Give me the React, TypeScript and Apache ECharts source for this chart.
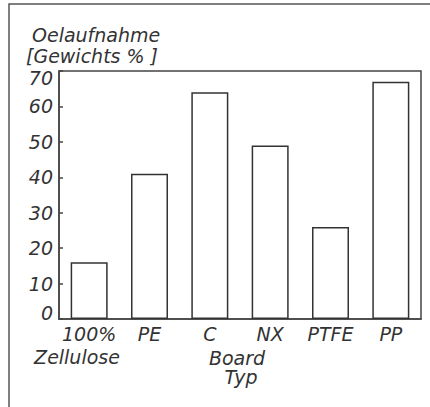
import React, { useEffect, useRef } from "react";
import * as echarts from "echarts";

const categories = ["100%", "PE", "C", "NX", "PTFE", "PP"];
const values = [16, 41, 64, 49, 26, 67];
const yTicks = [0, 10, 20, 30, 40, 50, 60, 70];
const titleLines = ["Oelaufnahme", "[Gewichts % ]"];
const extraLabels = ["Zellulose", "Board", "Typ"];

const FONT = "DejaVu Sans";
const INK = "#333";
const FS = 19;
const LH = 16;

export default function App() {
  const ref = useRef<HTMLDivElement>(null);
  useEffect(() => {
    if (!ref.current) return;
    const chart = echarts.init(ref.current, undefined, { renderer: "svg" });
    const textStyle = {
      fontFamily: FONT,
      fontStyle: "italic",
      fontSize: FS,
      lineHeight: LH,
      fill: INK,
      fontWeight: 300,
    };
    const yMin = yTicks[0];
    const yMax = yTicks[yTicks.length - 1];
    chart.setOption({
      animation: false,
      backgroundColor: "#fff",
      grid: {
        left: 59,
        top: 71,
        right: 9,
        bottom: 88,
        show: true,
        borderColor: "#444",
        borderWidth: 1.5,
      },
      xAxis: {
        type: "category",
        data: categories,
        axisLine: { lineStyle: { color: "#444", width: 1.5 } },
        axisTick: { show: false },
        axisLabel: {
          interval: 0,
          margin: 7,
          fontFamily: FONT,
          fontStyle: "italic",
          fontWeight: 300,
          fontSize: FS,
          lineHeight: LH,
          color: INK,
        },
      },
      yAxis: {
        type: "value",
        min: yMin,
        max: yMax,
        interval: 10,
        splitLine: { show: false },
        axisLine: { show: true, lineStyle: { color: "#444", width: 1.5 } },
        axisTick: { show: true, inside: true, length: 4, lineStyle: { color: "#444", width: 1.5 } },
        axisLabel: {
          margin: 6,
          fontFamily: FONT,
          fontStyle: "italic",
          fontWeight: 300,
          fontSize: FS,
          lineHeight: LH,
          color: INK,
          formatter: (v: number) =>
            v === yMax ? `{mx|${v}}` : v === yMin ? `{mn|${v}}` : `${v}`,
          rich: {
            mx: { padding: [14, 0, 0, 0], fontSize: FS, lineHeight: LH, fontStyle: "italic", fontFamily: FONT, color: INK },
            mn: { padding: [0, 0, 12, 0], fontSize: FS, lineHeight: LH, fontStyle: "italic", fontFamily: FONT, color: INK },
          },
        },
      },
      series: [
        {
          type: "bar",
          data: values,
          barWidth: 37,
          itemStyle: { color: "#fff", borderColor: "#333", borderWidth: 1.5 },
        },
      ],
      graphic: [
        {
          type: "rect",
          shape: { x: 9, y: 4, width: 500, height: 500 },
          style: { fill: "none", stroke: "#555", lineWidth: 1.5 },
          silent: true,
        },
        { type: "text", x: 32, y: 27, style: { ...textStyle, text: titleLines[0] } },
        { type: "text", x: 26, y: 48, style: { ...textStyle, text: titleLines[1] } },
        { type: "text", x: 77, y: 349, style: { ...textStyle, text: extraLabels[0], align: "center" } },
        { type: "text", x: 237, y: 350, style: { ...textStyle, text: extraLabels[1], align: "center" } },
        { type: "text", x: 241, y: 369, style: { ...textStyle, text: extraLabels[2], align: "center" } },
      ],
    });
    return () => chart.dispose();
  }, []);
  return <div ref={ref} style={{ width: 430, height: 407, position: "absolute", left: 0, top: 0 }} />;
}
